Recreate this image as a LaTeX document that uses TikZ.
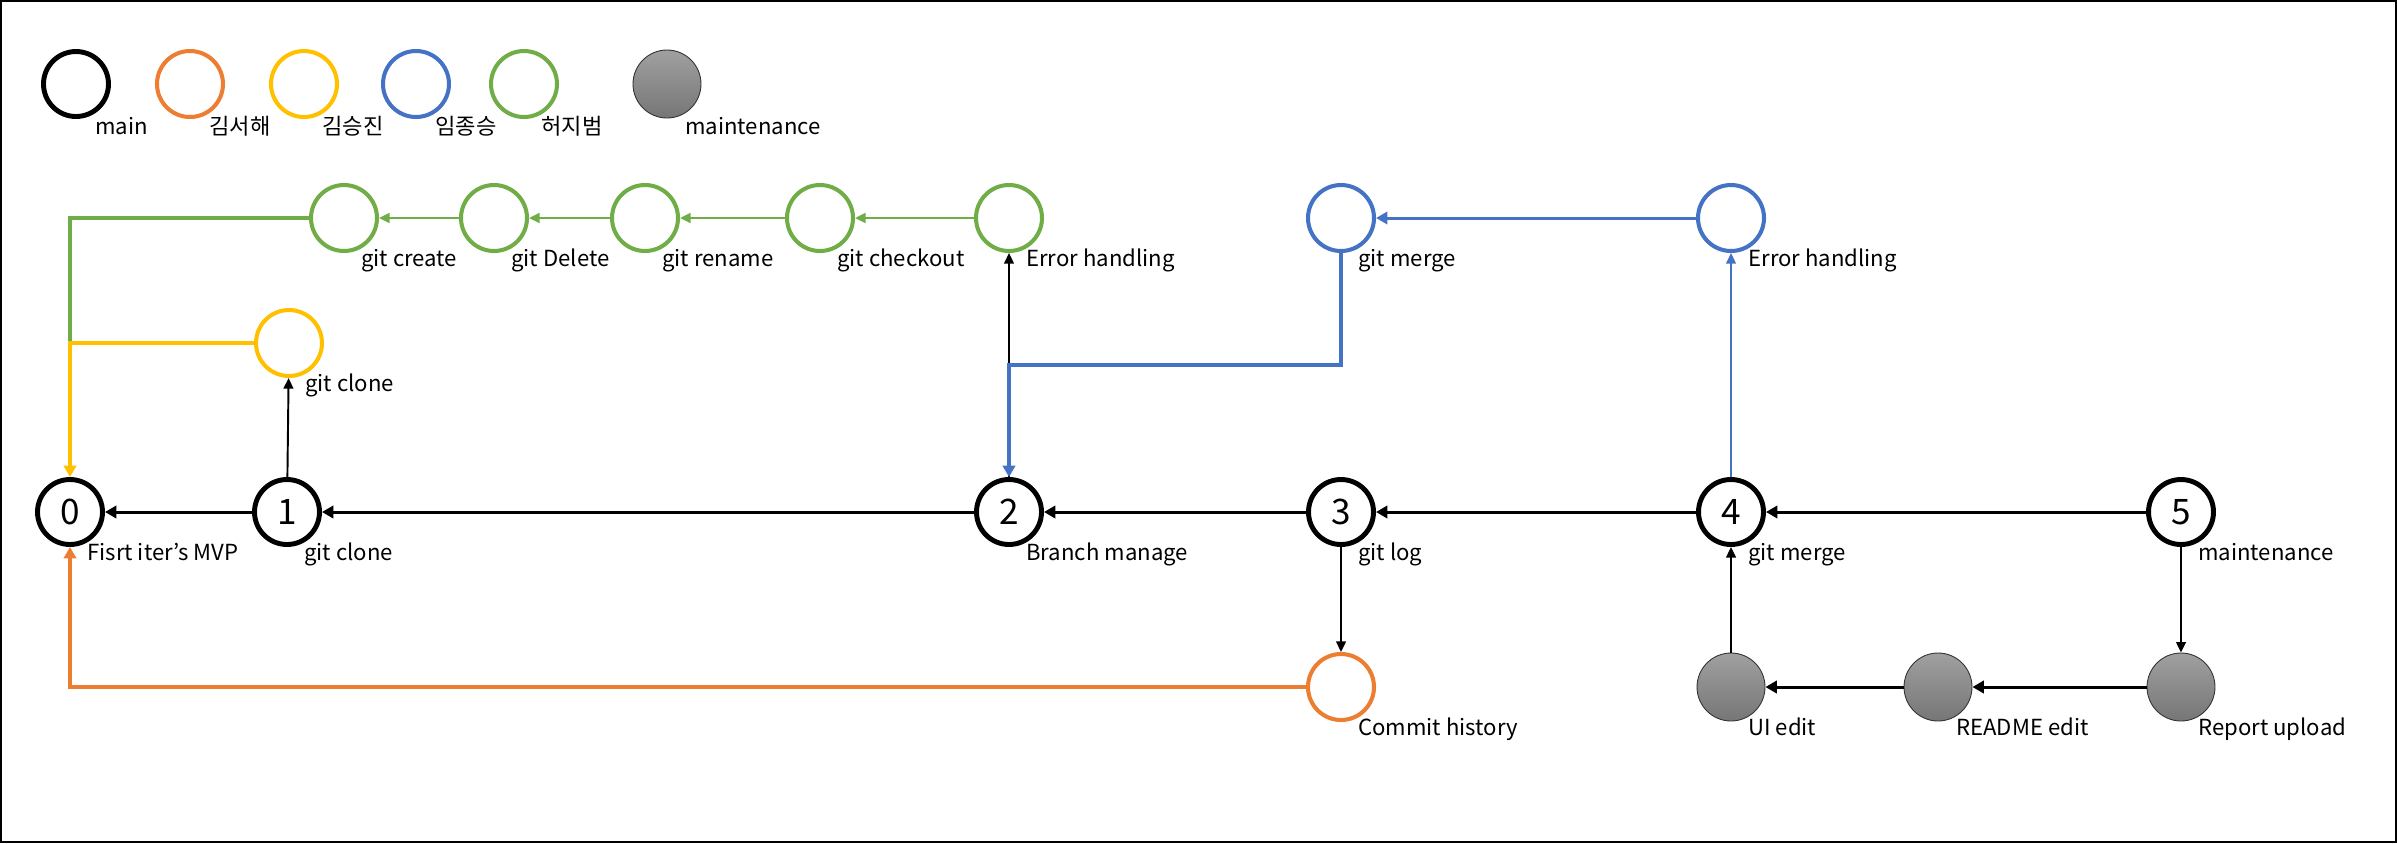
\documentclass[tikz,border=0pt]{standalone}
\usepackage{fontspec}
\setmainfont{Noto Sans CJK KR}
\usetikzlibrary{arrows.meta}
\definecolor{cor}{HTML}{ED7D31}
\definecolor{cye}{HTML}{FFC000}
\definecolor{cbl}{HTML}{4472C4}
\definecolor{cgr}{HTML}{70AD47}
\definecolor{gtop}{RGB}{160,160,160}
\definecolor{gbot}{RGB}{118,118,118}
\begin{document}
\begin{tikzpicture}[x=0.02cm,y=-0.02cm,
  mainnode/.style={circle,draw=black,fill=white,line width=2.8pt,minimum size=1.30cm,inner sep=0pt,font=\fontsize{20}{22}\selectfont},
  cnode/.style={circle,draw=#1,fill=white,line width=2.3pt,minimum size=1.32cm,inner sep=0pt},
  gnode/.style={circle,draw=black!80,line width=0.5pt,top color=gtop,bottom color=gbot,minimum size=1.36cm,inner sep=0pt},
  lbl/.style={anchor=base west,inner sep=0pt,font=\fontsize{12.6}{15}\selectfont},
  bigtip/.style={-{Triangle[length=6.5pt,width=7pt]}},
  smalltip/.style={-{Triangle[length=6pt,width=5.5pt]}},
  mainarrow/.style={bigtip,line width=1.7pt,black},
  thinarrow/.style={smalltip,line width=1.1pt},
  thickline/.style={line width=2.3pt}
]
\useasboundingbox (0,0) rectangle (2397,843);
\draw[line width=1.2pt] (1,1) rectangle (2396,842);

% legend
\node[mainnode] (lg0) at (76,84) {};
\node[cnode=cor] (lg1) at (190,84) {};
\node[cnode=cye] (lg2) at (304,84) {};
\node[cnode=cbl] (lg3) at (416,84) {};
\node[cnode=cgr] (lg4) at (524,84) {};
\node[gnode] (lg5) at (667,84) {};
\node[lbl] (lgl0) at (95,134) {main};
\node[lbl] (lgl1) at (209,134) {김서해};
\node[lbl] (lgl2) at (322,134) {김승진};
\node[lbl] (lgl3) at (435,134) {임종승};
\node[lbl] (lgl4) at (541,134) {허지범};
\node[lbl] (lgl5) at (685,134) {maintenance};

% main row
\node[mainnode] (n0) at (70,512) {0};
\node[mainnode] (n1) at (287,512) {1};
\node[mainnode] (n2) at (1009,512) {2};
\node[mainnode] (n3) at (1341,512) {3};
\node[mainnode] (n4) at (1731,512) {4};
\node[mainnode] (n5) at (2181,512) {5};
\node[lbl] (l0) at (87,560) {Fisrt iter’s MVP};
\node[lbl] (l1) at (304,560) {git clone};
\node[lbl] (l2) at (1026,560) {Branch manage};
\node[lbl] (l3) at (1358,560) {git log};
\node[lbl] (l4) at (1748,560) {git merge};
\node[lbl] (l5) at (2198,560) {maintenance};

% bottom row
\node[cnode=cor] (commit) at (1341,687) {};
\node[gnode] (ui) at (1731,687) {};
\node[gnode] (readme) at (1938,687) {};
\node[gnode] (rep) at (2181,687) {};
\node[lbl] (lcommit) at (1358,735) {Commit history};
\node[lbl] (lui) at (1748,735) {UI edit};
\node[lbl] (lreadme) at (1956,735) {README edit};
\node[lbl] (lrep) at (2198,735) {Report upload};

% yellow
\node[cnode=cye] (gclone) at (289,343) {};
\node[lbl] (lgclone) at (305,391) {git clone};

% green row
\node[cnode=cgr] (gcreate) at (344,218) {};
\node[cnode=cgr] (gdel) at (494,218) {};
\node[cnode=cgr] (gren) at (645,218) {};
\node[cnode=cgr] (gcheck) at (820,218) {};
\node[cnode=cgr] (gerr) at (1009,218) {};
\node[lbl] (lgcreate) at (361,266) {git create};
\node[lbl] (lgdel) at (511,266) {git Delete};
\node[lbl] (lgren) at (662,266) {git rename};
\node[lbl] (lgcheck) at (837,266) {git checkout};
\node[lbl] (lgerr) at (1026,266) {Error handling};

% blue row
\node[cnode=cbl] (bmerge) at (1341,218) {};
\node[cnode=cbl] (berr) at (1731,218) {};
\node[lbl] (lbmerge) at (1358,266) {git merge};
\node[lbl] (lberr) at (1748,266) {Error handling};

\coordinate (jg) at (70,342);
\coordinate (jb) at (1341,365);

% main arrows
\draw[mainarrow] (n1) -- (n0);
\draw[mainarrow] (n2) -- (n1);
\draw[mainarrow] (n3) -- (n2);
\draw[mainarrow] (n4) -- (n3);
\draw[mainarrow] (n5) -- (n4);
\draw[mainarrow] (rep) -- (readme);
\draw[mainarrow] (readme) -- (ui);

\draw[thinarrow,black] (n1) -- (gclone);
\draw[thinarrow,black] (n2) -- (gerr);
\draw[thinarrow,black] (n3) -- (commit);
\draw[thinarrow,black] (n5) -- (rep);
\draw[thinarrow,black] (ui) -- (n4);

% green
\draw[thickline,cgr] (gcreate.west) -| (jg);
\draw[thinarrow,cgr,line width=1.4pt] (gdel) -- (gcreate);
\draw[thinarrow,cgr,line width=1.4pt] (gren) -- (gdel);
\draw[thinarrow,cgr,line width=1.4pt] (gcheck) -- (gren);
\draw[thinarrow,cgr,line width=1.4pt] (gerr) -- (gcheck);

% yellow
\draw[thickline,cye,bigtip] (gclone.west) -| (n0.north);

% orange
\draw[thickline,cor,bigtip] (commit.west) -| (n0.south);

% blue
\draw[thickline,cbl,bigtip] (bmerge.south) -- (jb) -| (n2.north);
\draw[bigtip,cbl,line width=1.7pt] (berr) -- (bmerge);
\draw[thinarrow,cbl] (n4) -- (berr);
\end{tikzpicture}
\end{document}
